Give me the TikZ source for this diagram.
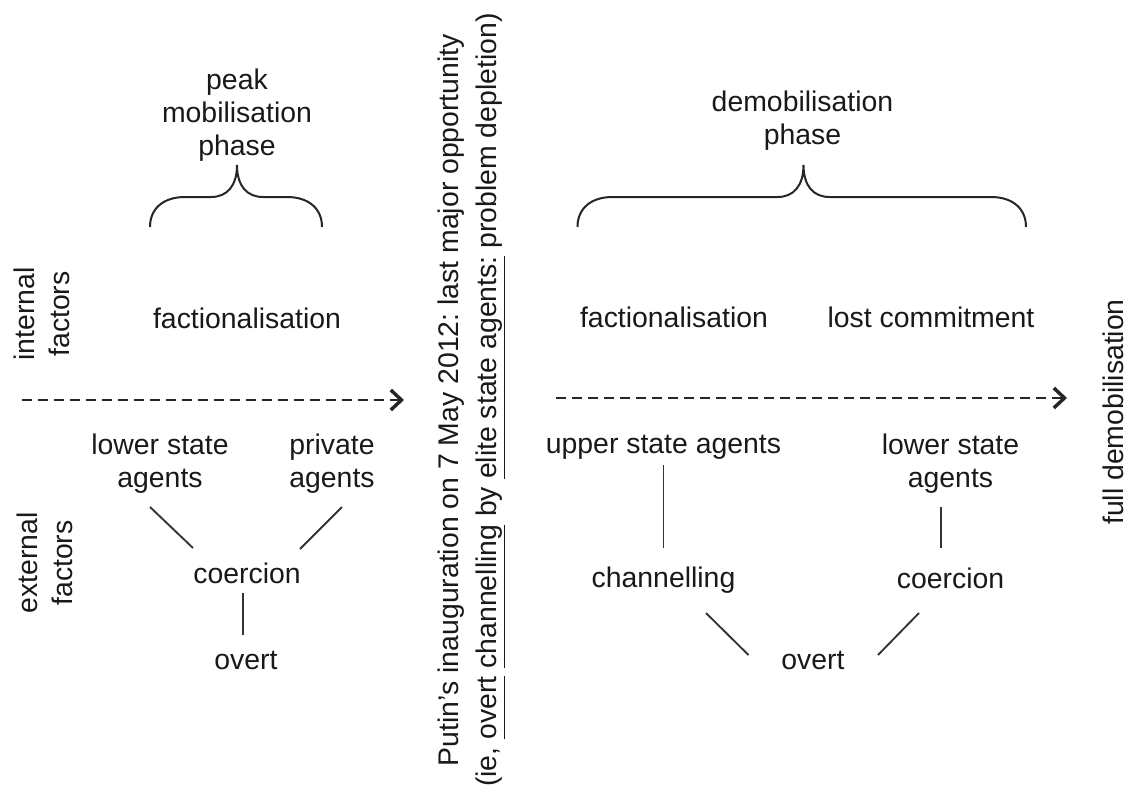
\documentclass[tikz,border=0pt]{standalone}
\usepackage{fontspec}
\setmainfont{Liberation Sans}
\usetikzlibrary{arrows.meta,calc}

% curly phase brace: left end, tip, right end
\newcommand{\phasebrace}[3]{%
  \draw[brace] (#1,227) .. controls (#1,208) and (#1+14,197) .. (#1+35,197)
    -- (#2-26,197) .. controls (#2-10,197) and (#2,186) .. (#2,165)
    .. controls (#2,186) and (#2+10,197) .. (#2+26,197)
    -- (#3-35,197) .. controls (#3-14,197) and (#3,208) .. (#3,227);}
% underline at one level
\newcommand{\ulevel}[1]{\underline{\smash{#1}\vphantom{gy}}}
\frenchspacing

\begin{document}
\begin{tikzpicture}[x=0.75pt,y=-0.75pt,
  every node/.style={inner sep=0pt,font=\fontsize{21.3}{24.75}\selectfont,text=black!90},
  lbl/.style={align=center},
  side/.style={align=center,rotate=90,font=\fontsize{21.3}{26.25}\selectfont},
  link/.style={draw=black!80,line width=1.4pt},
  brace/.style={draw=black!85,line width=1.5pt},
  timeline/.style={draw=black!85,line width=1.9pt,dash pattern=on 7.5pt off 4.5pt,
    -{Straight Barb[length=8pt,width=15pt,line width=2.6pt]}}]
\useasboundingbox (0,0) rectangle (1129,785);

% row labels
\node[side] (intL) at (42,314) {internal\\factors};
\node[side] (extL) at (45,563) {external\\factors};

% peak mobilisation phase
\node[lbl] (peak) at (237,115) {peak\\mobilisation\\phase};
\phasebrace{150}{237}{322}
\node (factA) at (247,318) {factionalisation};
\coordinate (tA0) at (22,400);
\coordinate (tA1) at (404,400);
\draw[timeline] (tA0) -- (tA1);
\node[lbl] (lowA) at (160,463.5) {lower state\\agents};
\node[lbl] (privA) at (332,463.5) {private\\agents};
\node (coerA) at (247,573) {coercion};
\node (overtA) at (246,660) {overt};
\draw[link] ($(lowA)+(-10,43.5)$) -- ($(coerA)+(-54,-25)$);
\draw[link] ($(privA)+(10,43.5)$) -- ($(coerA)+(53,-24)$);
\draw[link] ($(coerA)+(-4,20)$) -- ($(overtA)+(-3,-25)$);

% turning point
\node[side,font=\fontsize{21.3}{28.5}\selectfont] (putin) at (471,400)
  {Putin's inauguration on 7 May 2012: last major opportunity\\
   (ie, \ulevel{overt} \ulevel{channelling} by \ulevel{elite state agents:} problem depletion)};

% demobilisation phase
\node[lbl] (demob) at (802.5,121) {demobilisation\\phase};
\phasebrace{577.5}{803.5}{1026}
\node (factB) at (674,317) {factionalisation};
\node (lost) at (931,317) {lost commitment};
\coordinate (tB0) at (556,398);
\coordinate (tB1) at (1067,398);
\draw[timeline] (tB0) -- (tB1);
\node[side] (full) at (1113,412) {full demobilisation};
\node (upB) at (663.5,447) {upper state agents};
\node[lbl] (lowB) at (950.5,463.5) {lower state\\agents};
\node (chanB) at (663.5,580) {channelling};
\node (coerB) at (950.5,578) {coercion};
\node (overtB) at (813,660) {overt};
\draw[link] ($(upB)+(0,18)$) -- ($(chanB)+(0,-32)$);
\draw[link] ($(lowB)+(-9.5,43.5)$) -- ($(coerB)+(-9.5,-30)$);
\draw[link] ($(chanB)+(42.5,33)$) -- ($(overtB)+(-64.5,-5)$);
\draw[link] ($(coerB)+(-31.5,35)$) -- ($(overtB)+(65,-5)$);
\end{tikzpicture}
\end{document}
